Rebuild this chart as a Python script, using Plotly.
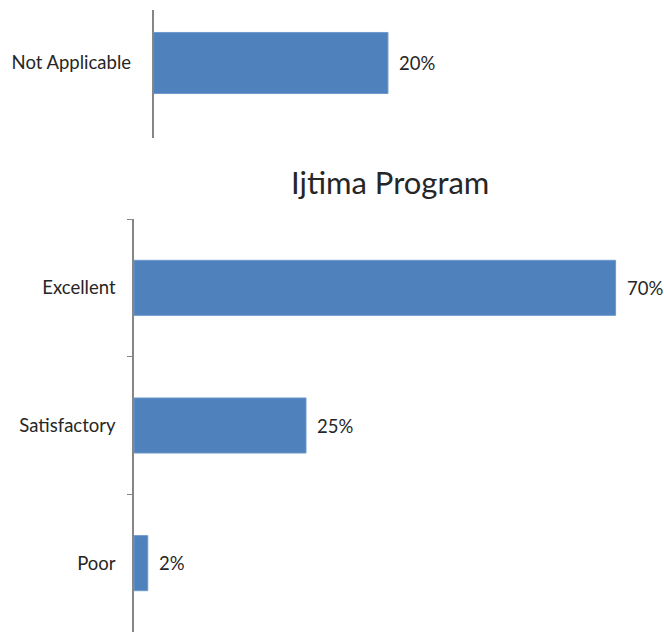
import plotly.graph_objects as go

W, H = 664, 634

# Data
top_categories = ["Not Applicable"]
top_values = [20]
categories = ["Excellent", "Satisfactory", "Poor"]
values = [70, 25, 2]
title_text = "Ijtima Program"

BAR = "#4F81BD"
AXIS = "#868686"
TXT = "#262626"
FONT = "Lato"
LBL = 18.5

def px_x(p):
    return p / W

def px_y(p):
    return 1 - p / H

fig = go.Figure()

fig.add_trace(go.Bar(
    x=top_values, y=[0], orientation="h", width=0.477,
    marker=dict(color=BAR, line=dict(color="#6E99CC", width=1)),
    xaxis="x", yaxis="y", showlegend=False, hoverinfo="skip",
))
fig.add_trace(go.Bar(
    x=values, y=categories, orientation="h", width=0.40,
    marker=dict(color=BAR, line=dict(color="#6E99CC", width=1)),
    xaxis="x2", yaxis="y2", showlegend=False, hoverinfo="skip",
))

annotations = []
for v in top_values:
    annotations.append(dict(x=v, y=0, xref="x", yref="y", text=f"{v}%",
                            showarrow=False, xanchor="left", xshift=9,
                            font=dict(family=FONT, size=LBL, color=TXT)))
for c, v in zip(categories, values):
    annotations.append(dict(x=v, y=c, xref="x2", yref="y2", text=f"{v}%",
                            showarrow=False, xanchor="left", xshift=9,
                            font=dict(family=FONT, size=LBL, color=TXT)))
annotations.append(dict(x=px_x(390), y=px_y(182), xref="paper", yref="paper",
                        text=title_text, showarrow=False, xanchor="center", yanchor="middle",
                        font=dict(family=FONT, size=31, color=TXT)))

fig.update_layout(
    width=W, height=H,
    margin=dict(l=0, r=0, t=0, b=0),
    paper_bgcolor="white", plot_bgcolor="white",
    font=dict(family=FONT, size=LBL, color=TXT),
    annotations=annotations,
    xaxis=dict(domain=[px_x(153.5), px_x(640)], range=[0, 41.5], anchor="y",
               visible=False, showgrid=False, zeroline=False),
    yaxis=dict(domain=[px_y(138), px_y(10)], range=[-0.586, 0.414], anchor="x",
               tickmode="array", tickvals=[0], ticktext=top_categories,
               showline=True, linecolor=AXIS, linewidth=1.5,
               ticks="", showgrid=False, zeroline=False,
               ticklabelstandoff=17, tickfont=dict(family=FONT, size=LBL, color=TXT)),
    xaxis2=dict(domain=[px_x(134), px_x(650)], range=[0, 75], anchor="y2",
                visible=False, showgrid=False, zeroline=False),
    yaxis2=dict(domain=[px_y(632), px_y(219)], range=[2.5, -0.5], anchor="x2",
                type="category", categoryorder="array", categoryarray=categories,
                showline=True, linecolor=AXIS, linewidth=1.5,
                ticks="outside", tickson="boundaries", ticklen=5, tickcolor=AXIS,
                showgrid=False, zeroline=False,
                ticklabelstandoff=13, tickfont=dict(family=FONT, size=LBL, color=TXT)),
)

fig.write_html("out.html", config={"displayModeBar": False},
               post_script="document.body.style.margin='0';document.body.style.overflow='hidden';")
